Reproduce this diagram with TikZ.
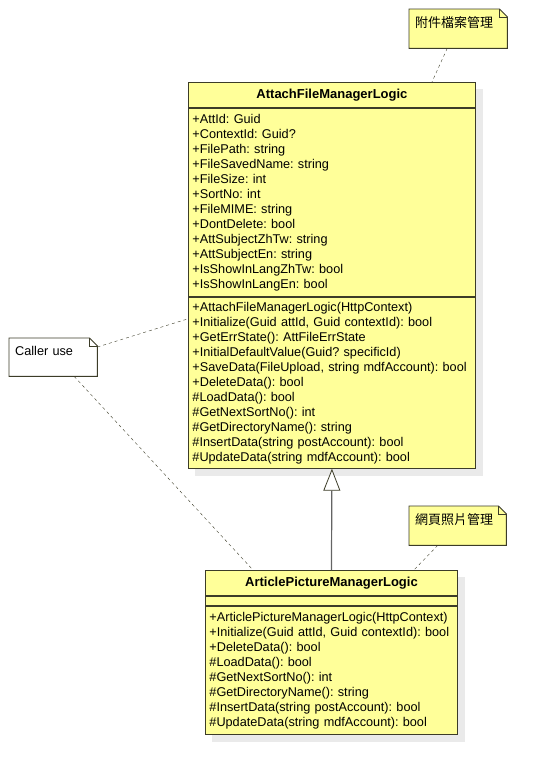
\documentclass[tikz,border=0pt]{standalone}
\usepackage{fontspec}
\setmainfont{Liberation Sans}
\newfontfamily\cjkfont{Noto Sans CJK TC}
\usetikzlibrary{positioning,backgrounds,arrows.meta}
\frenchspacing

\definecolor{umlfill}{RGB}{255,255,153}
\definecolor{umlline}{RGB}{60,60,40}
\definecolor{umlsep}{RGB}{128,128,80}
\definecolor{umlshadow}{RGB}{234,234,234}
\definecolor{genlinecol}{RGB}{100,100,100}

\tikzset{
  classname/.style={draw=umlline, line width=0.9pt, fill=umlfill, font=\bfseries\fontsize{13}{15}\selectfont,
    minimum height=25pt, inner sep=0pt, anchor=north west},
  classbody/.style={draw=umlline, line width=0.9pt, fill=umlfill, font=\fontsize{12.7}{15}\selectfont,
    align=left, inner xsep=4pt, inner ysep=0pt, anchor=north west},
  notebox/.style={inner xsep=6pt, inner ysep=4pt, text width=#1, align=left,
    text height=14pt, text depth=17pt, anchor=north west},
  noteedge/.style={draw=umlline, line width=0.9pt, fill=#1},
  notelink/.style={draw=umlline, thin, dash pattern=on 3pt off 3pt},
  inherit/.style={draw=genlinecol, line width=1.2pt,
    -{Triangle[length=22pt, width=17pt, fill=white, color=umlline, line width=0.8pt]}},
}

\begin{document}
\begin{tikzpicture}[x=1pt, y=-1pt]
	\useasboundingbox (0,0) rectangle (547,772);

	% parent class
	\node[classname, minimum width=287pt] (afmName) at (188,82) {AttachFileManagerLogic};
	\node[classbody, text width=279pt, minimum height=188pt] (afmAttr) at (afmName.south west) {%
		+AttId: Guid\\
		+ContextId: Guid?\\
		+FilePath: string\\
		+FileSavedName: string\\
		+FileSize: int\\
		+SortNo: int\\
		+FileMIME: string\\
		+DontDelete: bool\\
		+AttSubjectZhTw: string\\
		+AttSubjectEn: string\\
		+IsShowInLangZhTw: bool\\
		+IsShowInLangEn: bool};
	\node[classbody, text width=279pt, minimum height=171pt] (afmOps) at (afmAttr.south west) {%
		+AttachFileManagerLogic(HttpContext)\\
		+Initialize(Guid attId, Guid contextId): bool\\
		+GetErrState(): AttFileErrState\\
		+InitialDefaultValue(Guid? specificId)\\
		+SaveData(FileUpload, string mdfAccount): bool\\
		+DeleteData(): bool\\
		\#LoadData(): bool\\
		\#GetNextSortNo(): int\\
		\#GetDirectoryName(): string\\
		\#InsertData(string postAccount): bool\\
		\#UpdateData(string mdfAccount): bool};

	% child class
	\node[classname, minimum width=252pt] (apmName) at (205,570) {ArticlePictureManagerLogic};
	\node[classbody, text width=244pt, minimum height=9pt] (apmAttr) at (apmName.south west) {};
	\node[classbody, text width=244pt, minimum height=128pt] (apmOps) at (apmAttr.south west) {%
		+ArticlePictureManagerLogic(HttpContext)\\
		+Initialize(Guid attId, Guid contextId): bool\\
		+DeleteData(): bool\\
		\#LoadData(): bool\\
		\#GetNextSortNo(): int\\
		\#GetDirectoryName(): string\\
		\#InsertData(string postAccount): bool\\
		\#UpdateData(string mdfAccount): bool};

	% shadows
	\begin{scope}[on background layer]
		\fill[umlshadow] ([shift={(7pt,-7pt)}]afmName.north west) rectangle ([shift={(7pt,-7pt)}]afmOps.south east);
		\fill[umlshadow] ([shift={(7pt,-7pt)}]apmName.north west) rectangle ([shift={(7pt,-7pt)}]apmOps.south east);
	\end{scope}

	% notes
	\node[notebox=86pt, font=\cjkfont\fontsize{13}{15}\selectfont] (noteAttach) at (409,9) {附件檔案管理};
	\node[notebox=85pt, font=\cjkfont\fontsize{13}{15}\selectfont] (notePhoto) at (409,506) {網頁照片管理};
	\node[notebox=76pt, font=\fontsize{12.7}{15}\selectfont, text height=13pt, text depth=17pt] (noteCaller) at (9,338) {Caller use};

	\begin{scope}[on background layer]
		\foreach \n/\c in {noteAttach/umlfill, notePhoto/umlfill, noteCaller/white} {
			\path[noteedge=\c] (\n.north west) -- ([xshift=-8pt]\n.north east) -- ([yshift=-8pt]\n.north east)
				-- (\n.south east) -- (\n.south west) -- cycle;
			\draw[umlline, line width=0.9pt] ([xshift=-8pt]\n.north east) |- ([yshift=-8pt]\n.north east);
		}
	\end{scope}

	% connectors
	\draw[inherit] (apmName.north) -- (afmOps.south);
	\draw[notelink] ([xshift=-11pt]noteAttach.south) -- ([xshift=100pt]afmName.north);
	\draw[notelink] ([xshift=-20pt]notePhoto.south) -- ([xshift=-44pt]apmName.north east);
	\draw[notelink] ([yshift=-9pt]noteCaller.north east) -- ([yshift=-22pt]afmOps.north west);
	\draw[notelink] ([xshift=21pt]noteCaller.south) -- ([xshift=48pt]apmName.north west);
\end{tikzpicture}
\end{document}
